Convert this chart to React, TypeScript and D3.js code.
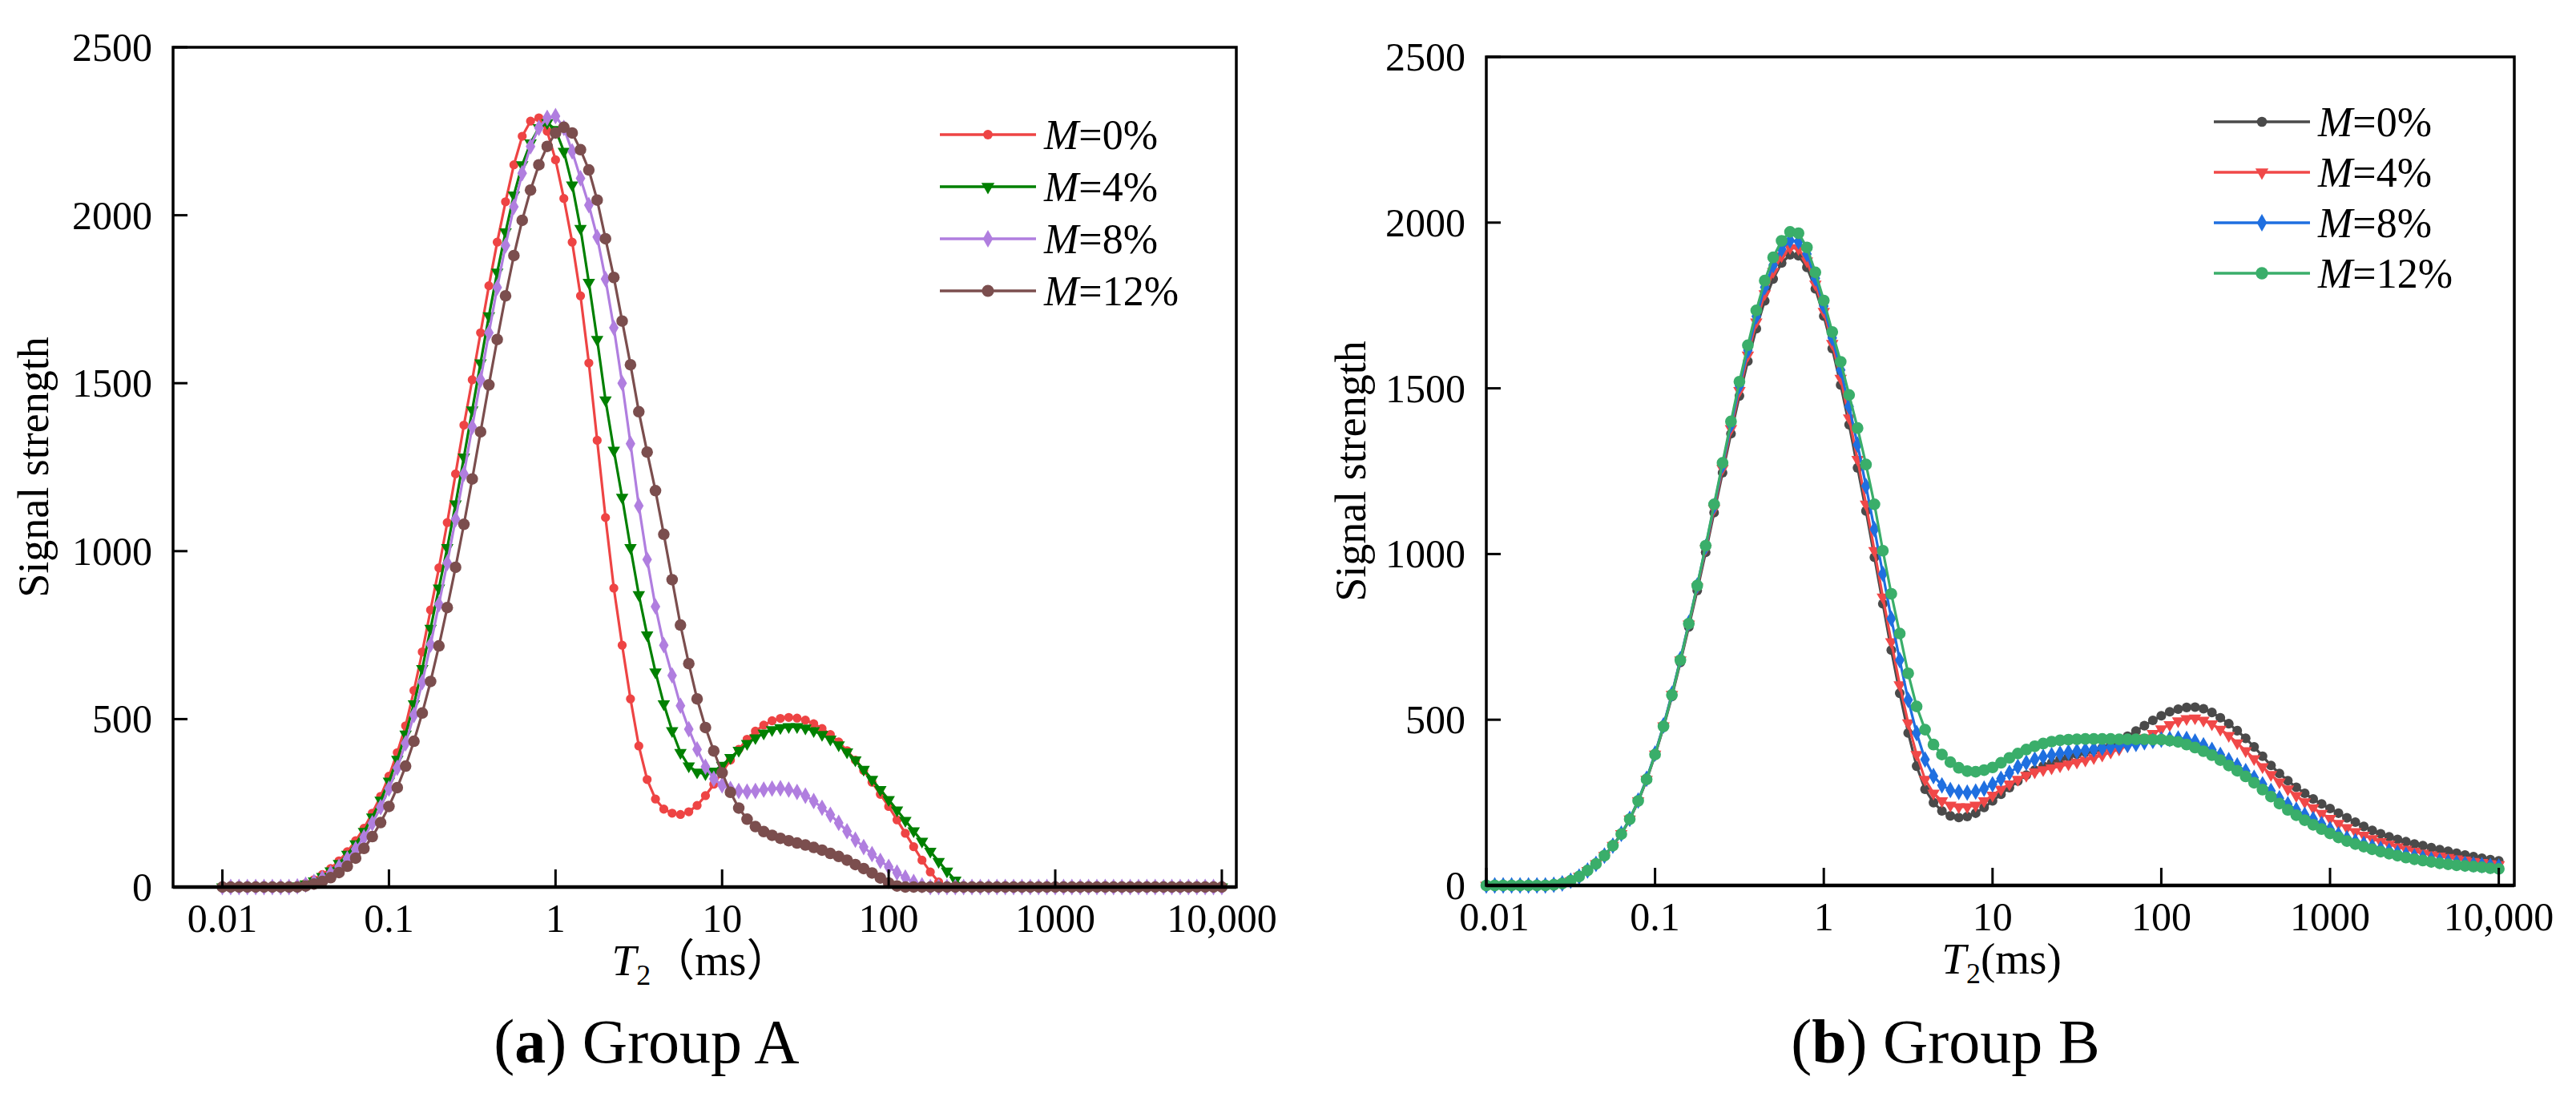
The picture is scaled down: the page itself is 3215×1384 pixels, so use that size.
import React from 'react';
import * as d3 from 'd3';

// T2 relaxation grid: 20 points per decade, 0.01 ms .. 10,000 ms (121 points)
const T2_MS = d3.range(121).map((i) => 0.01 * Math.pow(10, i / 20));

const X_TICKS = [0.01, 0.1, 1, 10, 100, 1000, 10000];
const X_TICK_LABELS = ['0.01', '0.1', '1', '10', '100', '1000', '10,000'];
const Y_TICKS = [0, 500, 1000, 1500, 2000, 2500];
const MOISTURE = ['0%', '4%', '8%', '12%'];

// Group A signal strength, one row per decade (20 values each) + last point
const groupA_M0 = [
  0, 0, 0, 0, 0, 0, 0, 0, 0, 4, 11, 22, 37, 55, 78, 105, 138, 175, 220, 270,
  330, 400, 480, 585, 700, 825, 950, 1085, 1230, 1375, 1510, 1650, 1790, 1920, 2040, 2150, 2235, 2280, 2290, 2250,
  2165, 2050, 1920, 1760, 1560, 1330, 1100, 890, 720, 560, 420, 320, 262, 232, 220, 216, 224, 243, 272, 306,
  342, 378, 410, 440, 464, 482, 495, 502, 505, 503, 497, 486, 472, 454, 432, 406, 378, 347, 312, 276,
  240, 200, 160, 120, 80, 45, 15, 0, 0, 0, 0, 0, 0, 0, 0, 0, 0, 0, 0, 0,
  0, 0, 0, 0, 0, 0, 0, 0, 0, 0, 0, 0, 0, 0, 0, 0, 0, 0, 0, 0,
  0,
];
const groupA_M4 = [
  0, 0, 0, 0, 0, 0, 0, 0, 0, 3, 9, 18, 31, 48, 70, 97, 128, 165, 208, 258,
  315, 380, 455, 545, 650, 770, 890, 1010, 1140, 1280, 1420, 1560, 1700, 1830, 1950, 2060, 2150, 2215, 2260, 2275,
  2255, 2190, 2090, 1960, 1800, 1630, 1450, 1300, 1160, 1010, 870, 750, 640, 545, 465, 400, 360, 342, 337, 345,
  362, 385, 407, 427, 444, 458, 468, 474, 477, 477, 473, 465, 454, 440, 423, 402, 378, 350, 320, 290,
  260, 229, 198, 167, 136, 106, 76, 47, 20, 0, 0, 0, 0, 0, 0, 0, 0, 0, 0, 0,
  0, 0, 0, 0, 0, 0, 0, 0, 0, 0, 0, 0, 0, 0, 0, 0, 0, 0, 0, 0,
  0,
];
const groupA_M8 = [
  0, 0, 0, 0, 0, 0, 0, 0, 0, 2, 7, 15, 26, 41, 60, 84, 113, 148, 190, 238,
  293, 355, 428, 512, 610, 722, 842, 965, 1095, 1230, 1370, 1510, 1650, 1785, 1910, 2025, 2125, 2205, 2260, 2290,
  2295, 2260, 2190, 2110, 2030, 1935, 1810, 1665, 1500, 1320, 1135, 975, 835, 720, 630, 540, 470, 410, 358, 322,
  303, 292, 286, 284, 286, 290, 293, 294, 290, 283, 272, 256, 236, 215, 191, 166, 141, 119, 98, 78,
  60, 43, 28, 15, 5, 0, 0, 0, 0, 0, 0, 0, 0, 0, 0, 0, 0, 0, 0, 0,
  0, 0, 0, 0, 0, 0, 0, 0, 0, 0, 0, 0, 0, 0, 0, 0, 0, 0, 0, 0,
  0,
];
const groupA_M12 = [
  0, 0, 0, 0, 0, 0, 0, 0, 0, 0, 3, 9, 17, 28, 43, 62, 86, 115, 150, 192,
  240, 296, 360, 434, 518, 612, 718, 832, 952, 1080, 1215, 1355, 1495, 1630, 1760, 1880, 1985, 2075, 2150, 2205,
  2245, 2262, 2245, 2195, 2135, 2045, 1930, 1815, 1685, 1555, 1415, 1295, 1180, 1050, 915, 780, 665, 560, 475, 405,
  340, 282, 235, 202, 180, 165, 154, 145, 138, 131, 125, 118, 110, 100, 91, 80, 67, 55, 42, 27,
  12, 3, 0, 0, 0, 0, 0, 0, 0, 0, 0, 0, 0, 0, 0, 0, 0, 0, 0, 0,
  0, 0, 0, 0, 0, 0, 0, 0, 0, 0, 0, 0, 0, 0, 0, 0, 0, 0, 0, 0,
  0,
];

// Group B signal strength
const groupB_M0 = [
  0, 0, 0, 0, 0, 0, 0, 0, 2, 6, 14, 27, 45, 65, 89, 119, 155, 199, 253, 318,
  393, 477, 570, 673, 780, 890, 1005, 1125, 1245, 1363, 1477, 1582, 1680, 1764, 1830, 1878, 1903, 1900, 1865, 1800,
  1718, 1620, 1510, 1390, 1260, 1130, 990, 850, 710, 580, 460, 360, 290, 250, 225, 210, 205, 208, 218, 235,
  255, 275, 295, 315, 333, 348, 360, 370, 380, 388, 396, 402, 408, 415, 423, 435, 450, 466, 482, 498,
  512, 524, 532, 537, 538, 533, 522, 506, 488, 467, 444, 418, 390, 362, 338, 316, 296, 278, 261, 246,
  232, 218, 204, 191, 178, 166, 156, 147, 139, 132, 125, 120, 114, 108, 103, 97, 92, 87, 82, 78,
  74,
];
const groupB_M4 = [
  0, 0, 0, 0, 0, 0, 0, 0, 2, 6, 14, 27, 45, 65, 90, 120, 156, 200, 255, 320,
  396, 481, 576, 680, 788, 900, 1016, 1137, 1258, 1378, 1493, 1600, 1700, 1785, 1852, 1900, 1924, 1921, 1884, 1814,
  1732, 1635, 1530, 1410, 1285, 1150, 1010, 870, 735, 605, 490, 395, 320, 278, 255, 242, 237, 237, 242, 255,
  272, 290, 306, 320, 332, 342, 349, 354, 360, 366, 372, 378, 385, 393, 402, 411, 421, 432, 445, 458,
  472, 485, 496, 503, 505, 498, 487, 471, 452, 430, 406, 382, 358, 334, 312, 291, 271, 252, 234, 217,
  202, 187, 174, 162, 151, 141, 132, 124, 116, 109, 103, 97, 92, 88, 84, 80, 76, 72, 69, 65,
  62,
];
const groupB_M8 = [
  0, 0, 0, 0, 0, 0, 0, 0, 2, 6, 14, 27, 45, 65, 90, 120, 156, 201, 256, 322,
  398, 483, 578, 683, 792, 905, 1022, 1145, 1268, 1390, 1507, 1615, 1717, 1805, 1872, 1920, 1946, 1943, 1905, 1832,
  1748, 1652, 1555, 1445, 1330, 1205, 1075, 940, 805, 680, 560, 460, 380, 330, 302, 288, 282, 280, 283, 292,
  305, 322, 340, 358, 370, 380, 388, 393, 398, 402, 405, 408, 411, 415, 418, 421, 424, 427, 432, 436,
  440, 442, 443, 442, 434, 423, 409, 394, 378, 362, 345, 325, 305, 285, 263, 245, 228, 213, 200, 185,
  170, 154, 142, 133, 125, 117, 110, 104, 98, 92, 87, 83, 78, 74, 71, 68, 65, 63, 61, 59,
  57,
];
const groupB_M12 = [
  0, 0, 0, 0, 0, 0, 0, 0, 2, 6, 14, 27, 45, 65, 90, 120, 155, 200, 255, 320,
  395, 480, 575, 680, 790, 905, 1025, 1150, 1275, 1400, 1520, 1630, 1735, 1825, 1895, 1945, 1972, 1968, 1925, 1850,
  1765, 1670, 1580, 1480, 1380, 1270, 1150, 1010, 880, 760, 640, 540, 470, 425, 395, 372, 355, 345, 343, 348,
  356, 370, 385, 398, 410, 420, 428, 434, 438, 440, 441, 442, 442, 442, 442, 441, 441, 441, 441, 440,
  440, 437, 433, 425, 416, 405, 393, 378, 362, 346, 329, 310, 289, 268, 247, 228, 212, 197, 183, 170,
  157, 145, 134, 125, 117, 109, 102, 96, 90, 84, 79, 75, 71, 67, 64, 61, 59, 57, 55, 52,
  50,
];

const FONT = "'Liberation Serif', 'Times New Roman', serif";

type Marker = { type: d3.SymbolType; size: number; rotate?: number };

const circleS: Marker = { type: d3.symbolCircle, size: 100 };
const circleL: Marker = { type: d3.symbolCircle, size: 165 };
const triDown: Marker = { type: d3.symbolTriangle, size: 105, rotate: 180 };
const diamond: Marker = { type: d3.symbolDiamond, size: 125 };

interface SeriesDef {
  values: number[];
  color: string;
  marker: Marker;
}

interface PanelProps {
  left: number;
  right: number;
  top: number;
  bottom: number;
  xMin: number;
  xMax: number;
  series: SeriesDef[];
  legendX: number;
  legendY: number;
  legendStep: number;
  yTitleX: number;
  xTitleX: number;
  xUnit: string;
  firstLabelDx: number;
  captionX: number;
  captionTag: string;
  captionText: string;
}

const Panel: React.FC<PanelProps> = (p) => {
  const x = d3.scaleLog().domain([p.xMin, p.xMax]).range([p.left, p.right]);
  const y = d3.scaleLinear().domain([0, 2500]).range([p.bottom, p.top]);

  const line = d3
    .line<number>()
    .x((_, i) => x(T2_MS[i]))
    .y((d) => y(d));

  const sym = (m: Marker) => d3.symbol().type(m.type).size(m.size)() as string;

  return (
    <g>
      {p.series.map((s, k) => {
        const path = sym(s.marker);
        return (
          <g key={k}>
            <path d={line(s.values) as string} fill="none" stroke={s.color} strokeWidth={3.2} />
            {s.values.map((v, i) => (
              <path
                key={i}
                d={path}
                fill={s.color}
                transform={`translate(${x(T2_MS[i])},${y(v)}) rotate(${s.marker.rotate || 0})`}
              />
            ))}
          </g>
        );
      })}

      {/* frame */}
      <rect
        x={p.left}
        y={p.top}
        width={p.right - p.left}
        height={p.bottom - p.top}
        fill="none"
        stroke="#000"
        strokeWidth={3.5}
      />
      <line x1={p.left} x2={p.right} y1={p.bottom} y2={p.bottom} stroke="#000" strokeWidth={4.5} />

      {/* x ticks */}
      {X_TICKS.map((t, i) => (
        <g key={t}>
          <line x1={x(t)} x2={x(t)} y1={p.bottom} y2={p.bottom - 22} stroke="#000" strokeWidth={3} />
          <text
            x={x(t) + (i === 0 ? p.firstLabelDx : 0)}
            y={p.bottom + 56}
            textAnchor="middle"
            fontSize={50}
            fontFamily={FONT}
          >
            {X_TICK_LABELS[i]}
          </text>
        </g>
      ))}

      {/* y ticks */}
      {Y_TICKS.map((t) => (
        <g key={t}>
          <line x1={p.left} x2={p.left + 18} y1={y(t)} y2={y(t)} stroke="#000" strokeWidth={3} />
          <text
            x={p.left - 26}
            y={y(t)}
            dy="0.34em"
            textAnchor="end"
            fontSize={50}
            fontFamily={FONT}
          >
            {t}
          </text>
        </g>
      ))}

      {/* axis titles */}
      <text
        transform={`translate(${p.yTitleX},${(p.top + p.bottom) / 2}) rotate(-90)`}
        textAnchor="middle"
        fontSize={54}
        fontFamily={FONT}
      >
        Signal strength
      </text>
      <text x={p.xTitleX} y={p.bottom + 110} textAnchor="middle" fontSize={55} fontFamily={FONT}>
        <tspan fontStyle="italic">T</tspan>
        <tspan fontSize={36} dy={12}>2</tspan>
        <tspan dy={-12} fontFamily={`${FONT}, 'Noto Sans CJK SC'`}>{p.xUnit}</tspan>
      </text>

      {/* legend */}
      {p.series.map((s, k) => {
        const ly = p.legendY + k * p.legendStep;
        return (
          <g key={k}>
            <line x1={p.legendX} x2={p.legendX + 120} y1={ly} y2={ly} stroke={s.color} strokeWidth={3.5} />
            <path
              d={sym({ ...s.marker, size: s.marker.size * 1.1 })}
              fill={s.color}
              transform={`translate(${p.legendX + 60},${ly}) rotate(${s.marker.rotate || 0})`}
            />
            <text x={p.legendX + 130} y={ly + 18} fontSize={52} fontFamily={FONT}>
              <tspan fontStyle="italic">M</tspan>={MOISTURE[k]}
            </text>
          </g>
        );
      })}

      {/* caption */}
      <text x={p.captionX} y={1326} textAnchor="middle" fontSize={78} fontFamily={FONT}>
        (<tspan fontWeight="bold">{p.captionTag}</tspan>) {p.captionText}
      </text>
    </g>
  );
};

export default function App() {
  const seriesA: SeriesDef[] = [
    { values: groupA_M0, color: '#EE4444', marker: circleS },
    { values: groupA_M4, color: '#008000', marker: triDown },
    { values: groupA_M8, color: '#B07EDF', marker: diamond },
    { values: groupA_M12, color: '#7B4E4E', marker: circleL },
  ];
  const seriesB: SeriesDef[] = [
    { values: groupB_M0, color: '#4A4A4A', marker: { type: d3.symbolCircle, size: 115 } },
    { values: groupB_M4, color: '#F04848', marker: triDown },
    { values: groupB_M8, color: '#1F6FE0', marker: diamond },
    { values: groupB_M12, color: '#3AAE6A', marker: { type: d3.symbolCircle, size: 170 } },
  ];

  return (
    <svg
      width={3215}
      height={1384}
      style={{ position: 'absolute', left: 0, top: 0, background: '#fff' }}
    >
      <rect width={3215} height={1384} fill="#fff" />
      <Panel
        left={216}
        right={1543}
        top={59}
        bottom={1107}
        xMin={Math.pow(10, -2.296)}
        xMax={Math.pow(10, 4.087)}
        series={seriesA}
        legendX={1173}
        legendY={168}
        legendStep={65}
        yTitleX={60}
        xTitleX={875}
        xUnit="（ms）"
        firstLabelDx={0}
        captionX={807}
        captionTag="a"
        captionText="Group A"
      />
      <Panel
        left={1855}
        right={3138}
        top={71}
        bottom={1105}
        xMin={0.01}
        xMax={Math.pow(10, 4.092)}
        series={seriesB}
        legendX={2763}
        legendY={152}
        legendStep={63}
        yTitleX={1704}
        xTitleX={2498}
        xUnit="(ms)"
        firstLabelDx={10}
        captionX={2428}
        captionTag="b"
        captionText="Group B"
      />
    </svg>
  );
}
